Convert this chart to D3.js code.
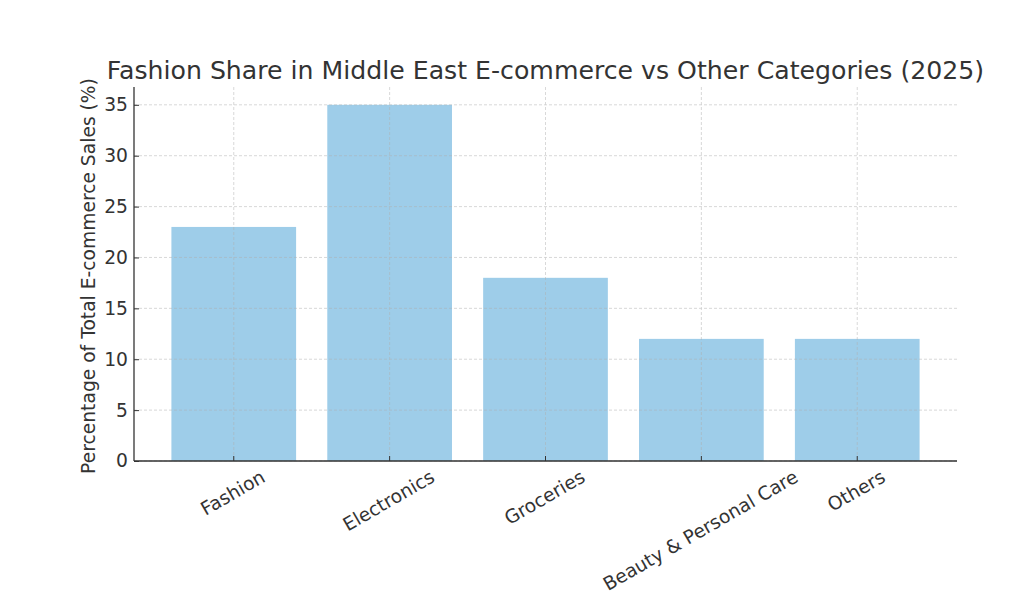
<!DOCTYPE html>
<html><head><meta charset="utf-8">
<script src="https://cdn.jsdelivr.net/npm/d3@7"></script>
<style>body{margin:0;background:#fff;} text{font-family:"DejaVu Sans",sans-serif;fill:#333;}</style>
</head><body>
<svg id="c" width="1011" height="598"></svg>
<script>
const categories = ["Fashion", "Electronics", "Groceries", "Beauty & Personal Care", "Others"];
const values = [23, 35, 18, 12, 12];
const yTicks = [0, 5, 10, 15, 20, 25, 30, 35];
const title = "Fashion Share in Middle East E-commerce vs Other Categories (2025)";
const yLabel = "Percentage of Total E-commerce Sales (%)";

const svg = d3.select("#c");
const L = 134, R = 957, T = 87, B = 461;
const n = categories.length;
const x = d3.scaleLinear().domain([-0.64, n - 1 + 0.64]).range([L, R]);
const y = d3.scaleLinear().domain([0, 36.75]).range([B, T]);
const bw = x(0.8) - x(0);
const fs = 18.7;

// bars
svg.append("g").selectAll("rect").data(values).join("rect")
  .attr("x", (d, i) => x(i - 0.4)).attr("width", bw)
  .attr("y", d => y(d)).attr("height", d => B - y(d))
  .attr("fill", "#9ecde9");

// grid
const g = svg.append("g").attr("stroke", "#b0b0b0").attr("stroke-width", 0.8)
  .attr("stroke-dasharray", "3,2").attr("opacity", 0.6);
g.selectAll(".gy").data(yTicks).join("line")
  .attr("x1", L).attr("x2", R).attr("y1", d => y(d)).attr("y2", d => y(d));
g.selectAll(".gx").data(categories).join("line")
  .attr("y1", T).attr("y2", B).attr("x1", (d, i) => x(i)).attr("x2", (d, i) => x(i));

// axes
const yAxis = d3.axisLeft(y).tickValues(yTicks).tickSize(-5).tickPadding(6);
const ya = svg.append("g").attr("transform", `translate(${L},0)`).call(yAxis);
ya.select(".domain").remove();
ya.selectAll("line").attr("stroke", "#333");
ya.selectAll("text").style("font-size", fs + "px").attr("fill", "#333");

svg.append("line").attr("x1", L).attr("x2", L).attr("y1", T).attr("y2", B).attr("stroke", "#333").attr("stroke-width", 1.3);
svg.append("line").attr("x1", L).attr("x2", R).attr("y1", B).attr("y2", B).attr("stroke", "#333").attr("stroke-width", 1.3);

// x ticks
svg.append("g").selectAll("line").data(categories).join("line")
  .attr("x1", (d, i) => x(i)).attr("x2", (d, i) => x(i))
  .attr("y1", B).attr("y2", B - 5).attr("stroke", "#333");

// x labels rotated 30 with center alignment
svg.append("g").selectAll("text").data(categories).join("text")
  .style("font-size", fs + "px")
  .attr("text-anchor", "middle")
  .attr("dominant-baseline", "central")
  .text(d => d)
  .each(function (d, i) {
    const w = this.getComputedTextLength();
    const h = fs * 1.0;
    const a = Math.PI / 6;
    const bh = w * Math.sin(a) + h * Math.cos(a);
    const cy = B + 6 + bh / 2;
    d3.select(this).attr("transform", `translate(${x(i) - 1},${cy}) rotate(-30)`);
  });

// title
svg.append("text").attr("x", (L + R) / 2).attr("y", 79).attr("text-anchor", "middle")
  .style("font-size", "25.2px").text(title);

// y label
svg.append("text").attr("transform", `translate(95,${(T + B) / 2 + 2}) rotate(-90)`)
  .attr("text-anchor", "middle").style("font-size", fs + "px").text(yLabel);
</script>
</body></html>
